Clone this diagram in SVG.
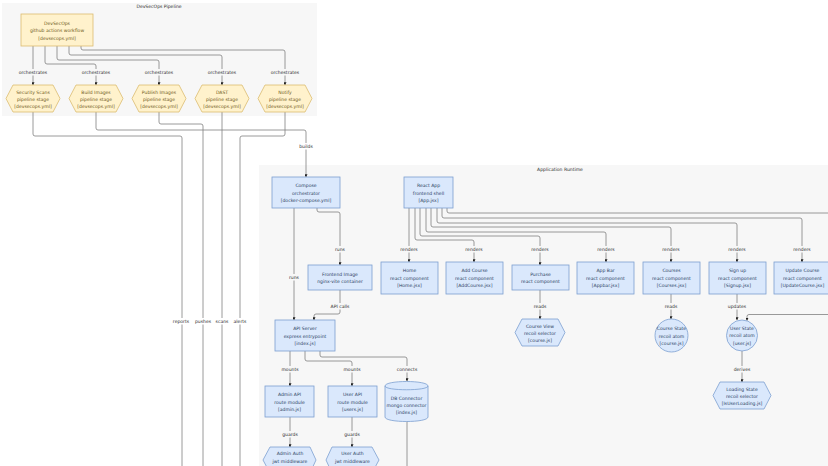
<svg xmlns="http://www.w3.org/2000/svg" width="828" height="466" viewBox="0 0 828 466">
<style>
text{font-family:"DejaVu Sans",sans-serif;font-size:4.55px;text-anchor:middle;fill:#2e2e2e;text-rendering:geometricPrecision}
.c{fill:#f7f7f7}
.y polygon,.y rect{fill:#fff2cc;stroke:#dcbc70;stroke-width:.8}
.y text{fill:#6f5a20}
.b rect,.b polygon,.b circle,.b path{fill:#dae8fc;stroke:#7c9fd0;stroke-width:.8}
.b text{fill:#2a3f5f}
#edges path{fill:none;stroke:#808080;stroke-width:.8;marker-end:url(#a)}
#edges path.n{marker-end:none}
</style>
<defs><marker id="a" viewBox="0 0 6 6" refX="5.500" refY="3" markerWidth="3" markerHeight="3" markerUnits="userSpaceOnUse" orient="auto"><path d="M0 0L6 3L0 6Z" fill="#222"/></marker></defs>
<rect width="828" height="466" fill="#fff"/>
<rect class="c" x="2" y="3" width="315" height="113"/>
<rect class="c" x="259" y="165" width="569" height="301"/>
<text x="159" y="8">DevSecOps Pipeline</text>
<text x="560" y="171">Application Runtime</text>
<g id="edges">
<path d="M33 46V85"/>
<path d="M45 46V62Q45 64 47 64H94Q96 64 96 66V85"/>
<path d="M57 46V58Q57 60 59 60H157Q159 60 159 62V85"/>
<path d="M69 46V53Q69 55 71 55H220Q222 55 222 57V85"/>
<path d="M81 46V48Q81 50 83 50H283Q285 50 285 52V85"/>
<path class="n" d="M33 112V134Q33 136 35 136H180Q182 136 182 138V466"/>
<path d="M96 112V128Q96 130 98 130H304Q306 130 306 132V177"/>
<path class="n" d="M159 112V122Q159 124 161 124H201Q203 124 203 126V466"/>
<path class="n" d="M222 112V466"/>
<path class="n" d="M285 112V134Q285 136 283 136H242Q240 136 240 138V466"/>
<path d="M294 208V320"/>
<path d="M317 208V210Q317 212 319 212H338Q340 212 340 214V265"/>
<path d="M340 290V312Q340 314 338 314H316Q314 314 314 316V320"/>
<path d="M409 208V262"/>
<path d="M415 208V238Q415 240 417 240H472Q474 240 474 242V262"/>
<path d="M420 208V234Q420 236 422 236H538Q540 236 540 238V265"/>
<path d="M426 208V230Q426 232 428 232H604Q606 232 606 234V262"/>
<path d="M431 208V225Q431 227 433 227H669Q671 227 671 229V262"/>
<path d="M437 208V221Q437 223 439 223H735Q737 223 737 225V262"/>
<path d="M442 208V216Q442 218 444 218H800Q802 218 802 220V262"/>
<path class="n" d="M447 208V211Q447 213 449 213H828"/>
<path d="M540 290V319"/>
<path d="M671 294V319"/>
<path d="M737 294V320"/>
<path d="M828 314.500H749Q747 314.500 747 316.500V320.500"/>
<path d="M742 351V382"/>
<path d="M290 351V386"/>
<path d="M305 351V359Q305 361 307 361H350Q352 361 352 363V386"/>
<path d="M320 351V355Q320 357 322 357H405Q407 357 407 359V381"/>
<path d="M290 417V447"/>
<path d="M352 417V447"/>
<path class="n" d="M407 421V466"/>
</g>
<g id="edge-labels">
<rect x="19" y="69" width="28" height="6.500" class="c"/><text x="33" y="73.700">orchestrates</text>
<rect x="82" y="69" width="28" height="6.500" class="c"/><text x="96" y="73.700">orchestrates</text>
<rect x="145" y="69" width="28" height="6.500" class="c"/><text x="159" y="73.700">orchestrates</text>
<rect x="208" y="69" width="28" height="6.500" class="c"/><text x="222" y="73.700">orchestrates</text>
<rect x="271" y="69" width="28" height="6.500" class="c"/><text x="285" y="73.700">orchestrates</text>
<rect x="299" y="143" width="14" height="6.500" fill="#fff"/><text x="306" y="147.700">builds</text>
<rect x="172" y="318" width="18" height="6.500" fill="#fff"/><text x="181" y="322.700">reports</text>
<rect x="195" y="318" width="16" height="6.500" fill="#fff"/><text x="203" y="322.700">pushes</text>
<rect x="216" y="318" width="13" height="6.500" fill="#fff"/><text x="222" y="322.700">scans</text>
<rect x="234" y="318" width="13" height="6.500" fill="#fff"/><text x="240" y="322.700">alerts</text>
<rect x="288" y="274" width="12" height="6.500" class="c"/><text x="294" y="278.700">runs</text>
<rect x="334" y="246" width="12" height="6.500" class="c"/><text x="340" y="250.700">runs</text>
<rect x="330" y="303" width="20" height="6.500" class="c"/><text x="340" y="307.700">API calls</text>
<rect x="401" y="246" width="17" height="6.500" class="c"/><text x="409" y="250.700">renders</text>
<rect x="466" y="246" width="17" height="6.500" class="c"/><text x="474" y="250.700">renders</text>
<rect x="532" y="246" width="17" height="6.500" class="c"/><text x="540" y="250.700">renders</text>
<rect x="598" y="246" width="17" height="6.500" class="c"/><text x="606" y="250.700">renders</text>
<rect x="663" y="246" width="17" height="6.500" class="c"/><text x="671" y="250.700">renders</text>
<rect x="729" y="246" width="17" height="6.500" class="c"/><text x="737" y="250.700">renders</text>
<rect x="794" y="246" width="17" height="6.500" class="c"/><text x="802" y="250.700">renders</text>
<rect x="534" y="303" width="13" height="6.500" class="c"/><text x="540" y="307.700">reads</text>
<rect x="665" y="303" width="13" height="6.500" class="c"/><text x="671" y="307.700">reads</text>
<rect x="728" y="303" width="18" height="6.500" class="c"/><text x="737" y="307.700">updates</text>
<rect x="733" y="366" width="18" height="6.500" class="c"/><text x="742" y="370.700">derives</text>
<rect x="281" y="366" width="18" height="6.500" class="c"/><text x="290" y="370.700">mounts</text>
<rect x="343" y="366" width="18" height="6.500" class="c"/><text x="352" y="370.700">mounts</text>
<rect x="397" y="366" width="20" height="6.500" class="c"/><text x="407" y="370.700">connects</text>
<rect x="282" y="431" width="16" height="6.500" class="c"/><text x="290" y="435.700">guards</text>
<rect x="344" y="431" width="16" height="6.500" class="c"/><text x="352" y="435.700">guards</text>
</g>
<g id="devsecops" class="y"><rect x="21" y="14" width="72" height="32"/><text x="57" y="24.500">DevSecOps</text><text x="57" y="32">github actions workflow</text><text x="57" y="39.500">[devsecops.yml]</text></g>
<g id="security" class="y"><polygon points="13,85 53,85 60,98.500 53,112 13,112 6,98.500"/><text x="33" y="93.500">Security Scans</text><text x="33" y="100.800">pipeline stage</text><text x="33" y="108">[devsecops.yml]</text></g>
<g id="build" class="y"><polygon points="76,85 116,85 123,98.500 116,112 76,112 69,98.500"/><text x="96" y="93.500">Build Images</text><text x="96" y="100.800">pipeline stage</text><text x="96" y="108">[devsecops.yml]</text></g>
<g id="publish" class="y"><polygon points="139,85 179,85 186,98.500 179,112 139,112 132,98.500"/><text x="159" y="93.500">Publish Images</text><text x="159" y="100.800">pipeline stage</text><text x="159" y="108">[devsecops.yml]</text></g>
<g id="dast" class="y"><polygon points="202,85 242,85 249,98.500 242,112 202,112 195,98.500"/><text x="222" y="93.500">DAST</text><text x="222" y="100.800">pipeline stage</text><text x="222" y="108">[devsecops.yml]</text></g>
<g id="notify" class="y"><polygon points="265,85 305,85 312,98.500 305,112 265,112 258,98.500"/><text x="285" y="93.500">Notify</text><text x="285" y="100.800">pipeline stage</text><text x="285" y="108">[devsecops.yml]</text></g>
<g id="compose" class="b"><rect x="272" y="177" width="68" height="31"/><text x="306" y="187">Compose</text><text x="306" y="194.500">orchestrator</text><text x="306" y="201.500">[docker-compose.yml]</text></g>
<g id="react" class="b"><rect x="404" y="177" width="49" height="31"/><text x="428.500" y="187">React App</text><text x="428.500" y="194.500">frontend shell</text><text x="428.500" y="201.500">[App.jsx]</text></g>
<g id="frontend" class="b"><rect x="308" y="265" width="64" height="25"/><text x="340" y="275.500">Frontend Image</text><text x="340" y="283">nginx-vite container</text></g>
<g id="home" class="b"><rect x="381" y="262" width="57" height="32"/><text x="409.500" y="272">Home</text><text x="409.500" y="279.500">react component</text><text x="409.500" y="287">[Home.jsx]</text></g>
<g id="addcourse" class="b"><rect x="446" y="262" width="57" height="32"/><text x="474.500" y="272">Add Course</text><text x="474.500" y="279.500">react component</text><text x="474.500" y="287">[AddCourse.jsx]</text></g>
<g id="purchase" class="b"><rect x="512" y="265" width="57" height="25"/><text x="540.500" y="275.500">Purchase</text><text x="540.500" y="283">react component</text></g>
<g id="appbar" class="b"><rect x="577" y="262" width="57" height="32"/><text x="605.500" y="272">App Bar</text><text x="605.500" y="279.500">react component</text><text x="605.500" y="287">[Appbar.jsx]</text></g>
<g id="courses" class="b"><rect x="643" y="262" width="57" height="32"/><text x="671.500" y="272">Courses</text><text x="671.500" y="279.500">react component</text><text x="671.500" y="287">[Courses.jsx]</text></g>
<g id="signup" class="b"><rect x="709" y="262" width="57" height="32"/><text x="737.500" y="272">Sign up</text><text x="737.500" y="279.500">react component</text><text x="737.500" y="287">[Signup.jsx]</text></g>
<g id="updatecourse" class="b"><rect x="774" y="262" width="57" height="32"/><text x="802.500" y="272">Update Course</text><text x="802.500" y="279.500">react component</text><text x="802.500" y="287">[UpdateCourse.jsx]</text></g>
<g id="courseview" class="b"><polygon points="522,319 558,319 565,332.500 558,346 522,346 515,332.500"/><text x="540" y="327.500">Course View</text><text x="540" y="334.800">recoil selector</text><text x="540" y="342">[course.js]</text></g>
<g id="coursestate" class="b"><circle cx="671.500" cy="335.500" r="16.500"/><text x="671.500" y="330">Course State</text><text x="671.500" y="337.500">recoil atom</text><text x="671.500" y="345">[course.js]</text></g>
<g id="userstate" class="b"><circle cx="742" cy="335.500" r="15.500"/><text x="742" y="329.500">User State</text><text x="742" y="337">recoil atom</text><text x="742" y="344.500">[user.js]</text></g>
<g id="loading" class="b"><polygon points="720,382 764,382 771,395.500 764,409 720,409 713,395.500"/><text x="742" y="390.500">Loading State</text><text x="742" y="397.800">recoil selector</text><text x="742" y="405">[IsUserLoading.js]</text></g>
<g id="api" class="b"><rect x="275" y="320" width="60" height="31"/><text x="305" y="330">API Server</text><text x="305" y="337.500">express entrypoint</text><text x="305" y="344.500">[index.js]</text></g>
<g id="adminapi" class="b"><rect x="265" y="386" width="49" height="31"/><text x="289.500" y="396">Admin API</text><text x="289.500" y="403.500">route module</text><text x="289.500" y="410.500">[admin.js]</text></g>
<g id="userapi" class="b"><rect x="328" y="386" width="49" height="31"/><text x="352.500" y="396">User API</text><text x="352.500" y="403.500">route module</text><text x="352.500" y="410.500">[users.js]</text></g>
<g id="db" class="b"><path d="M385 386C385 380 428 380 428 386V417C428 423 385 423 385 417Z"/><path d="M385 386C385 391 428 391 428 386" style="fill:none"/><text x="406.500" y="399.500">DB Connector</text><text x="406.500" y="407">mongo connector</text><text x="406.500" y="414">[index.js]</text></g>
<g id="adminauth" class="b"><polygon points="270,447 310,447 316,460 310,473 270,473 263,460"/><text x="290" y="455">Admin Auth</text><text x="290" y="462.500">jwt middleware</text></g>
<g id="userauth" class="b"><polygon points="332,447 372,447 379,460 372,473 332,473 326,460"/><text x="352.500" y="455">User Auth</text><text x="352.500" y="462.500">jwt middleware</text></g>
</svg>
